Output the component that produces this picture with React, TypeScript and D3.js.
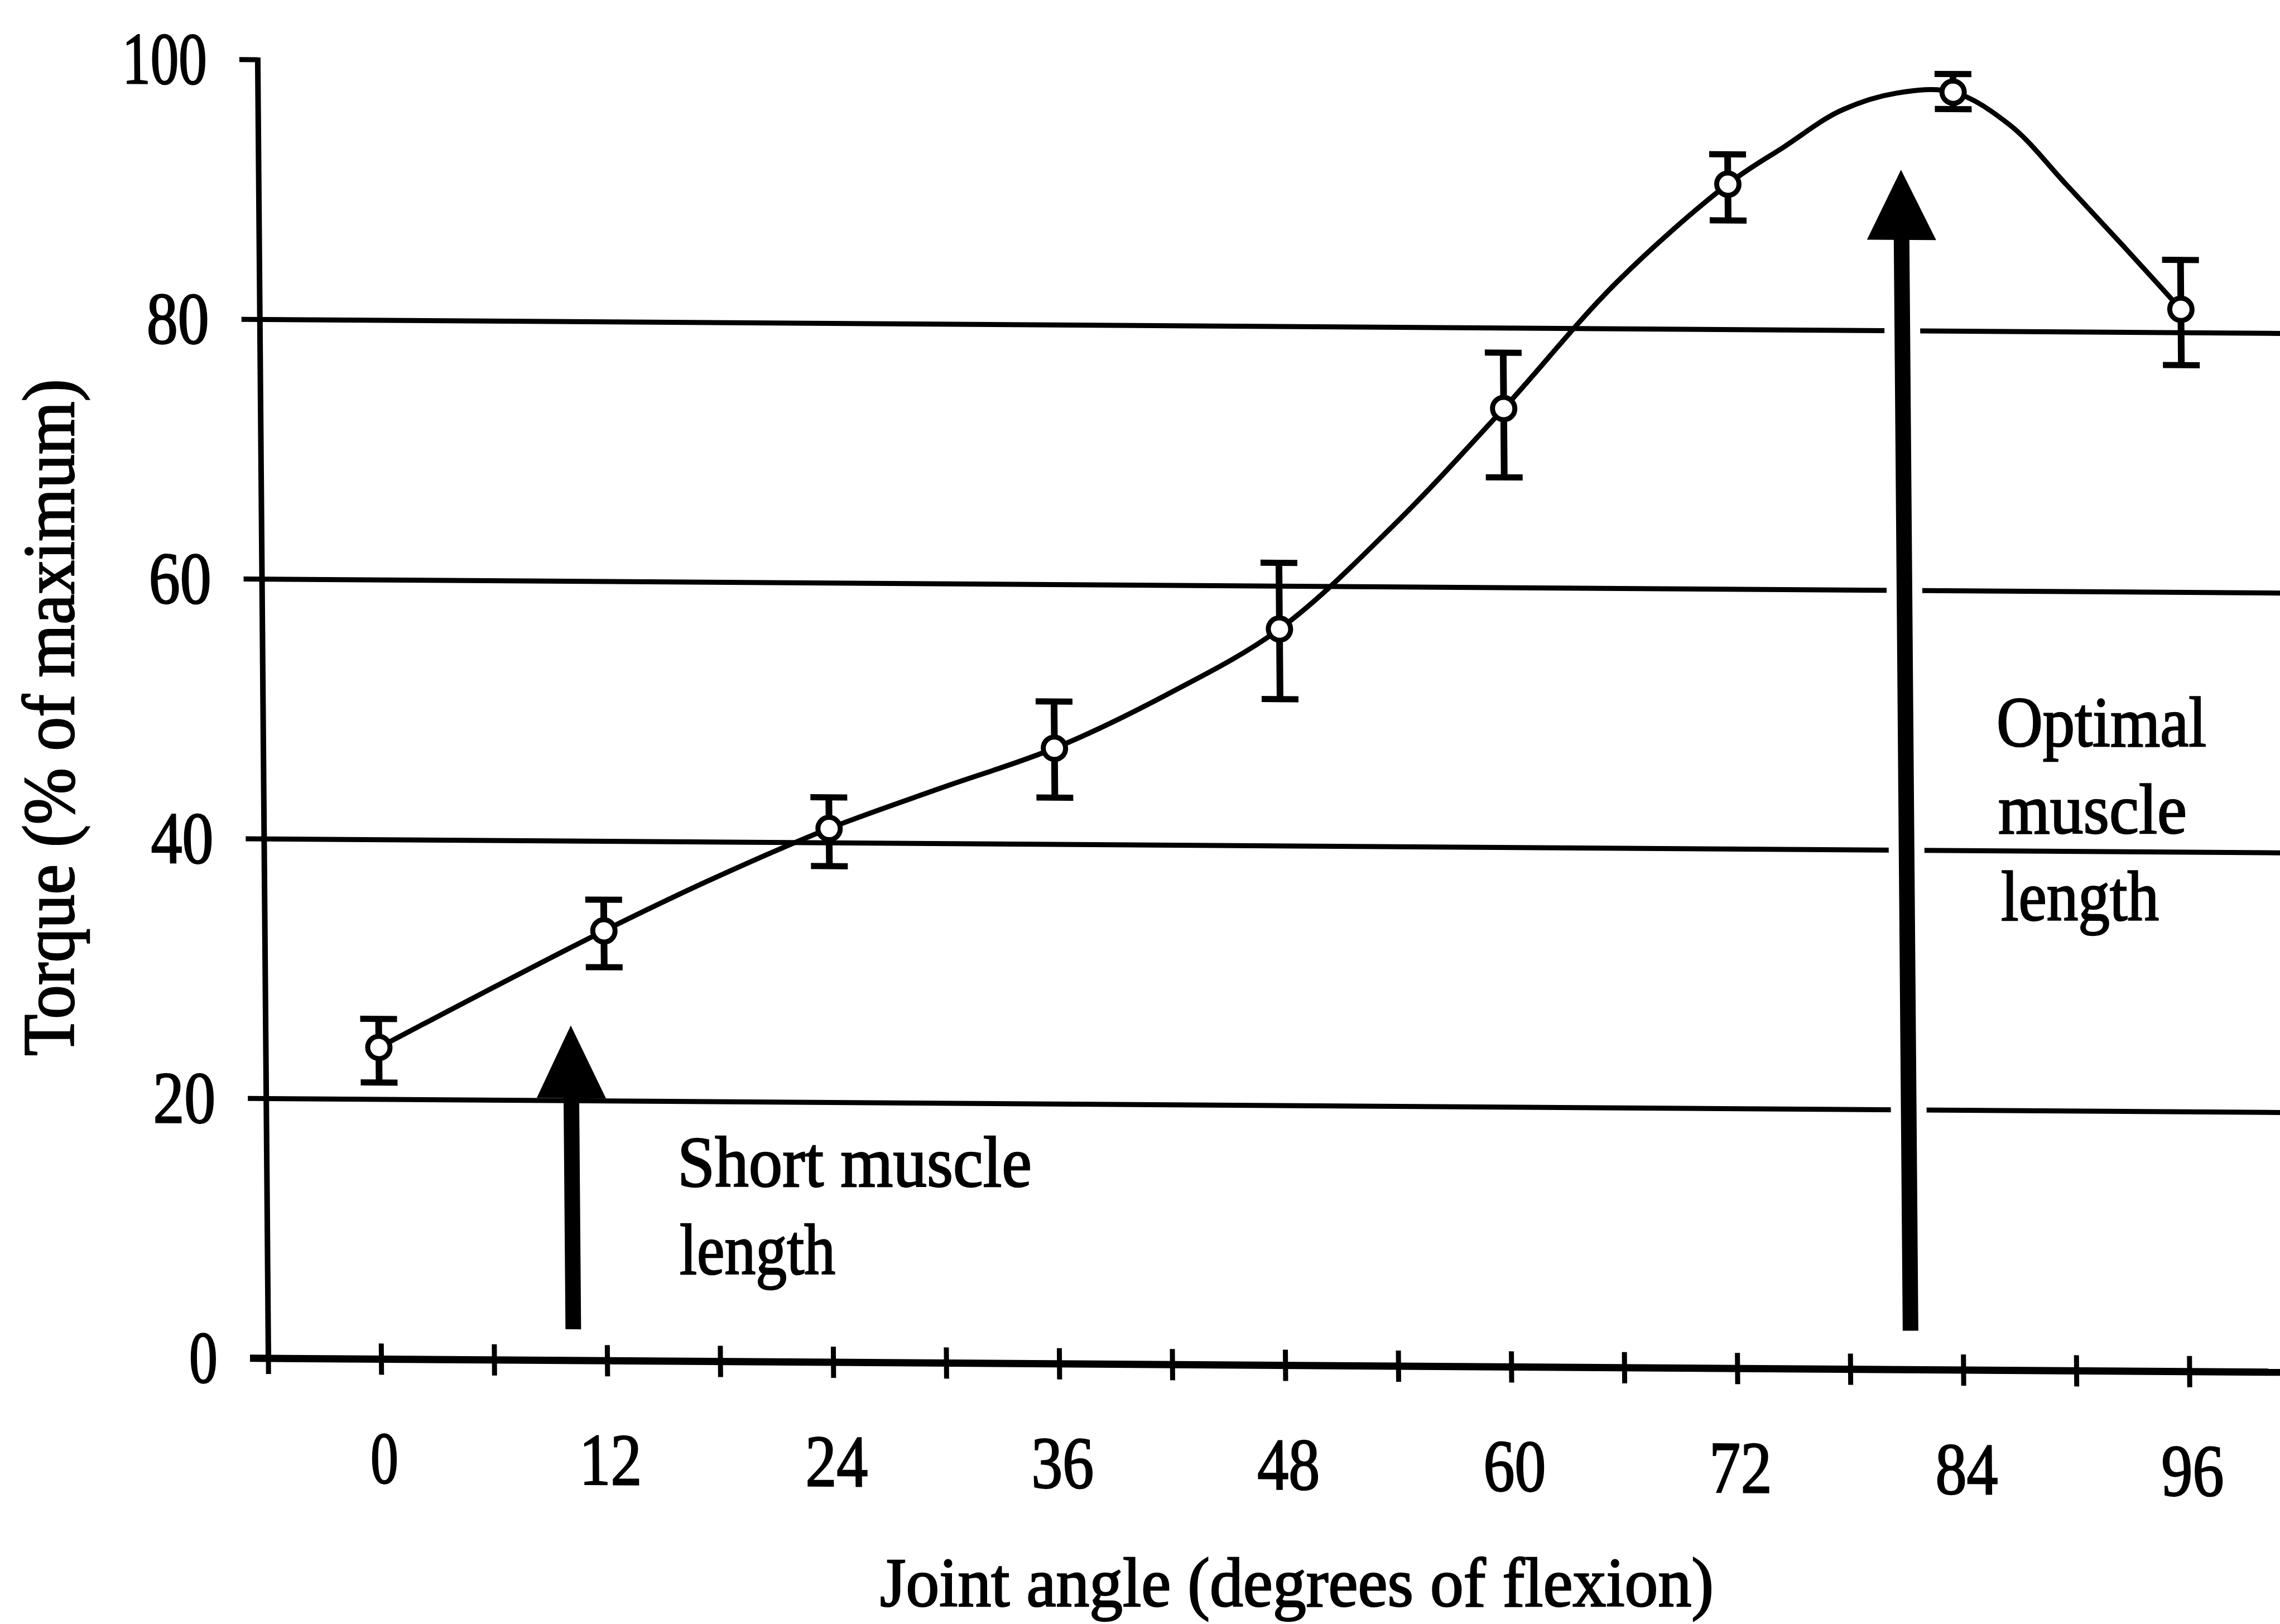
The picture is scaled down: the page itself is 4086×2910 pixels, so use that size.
import React from "react";
import * as d3 from "d3";

// ---- Data ----
const angles = [0, 12, 24, 36, 48, 60, 72, 84, 96];
const torqueMean = [24.0, 33.1, 41.1, 47.4, 56.7, 73.8, 91.2, 98.4, 81.8];
const torqueUpper = [26.2, 35.5, 43.5, 51.0, 61.8, 78.1, 93.5, 99.8, 85.6];
const torqueLower = [21.3, 30.3, 38.2, 43.6, 51.3, 68.5, 88.4, 97.1, 77.5];

// smoothed curve drawn through the points
const curveAngles = [0, 6, 12, 18, 24, 30, 36, 42, 48, 54, 60, 66, 72, 75, 78, 81, 84, 87, 90, 93, 96];
const curveTorque = [24.0, 28.6, 33.1, 37.3, 41.1, 44.3, 47.4, 51.6, 56.7, 64.6, 73.8, 83.5, 91.2, 94.1, 96.9, 98.3, 98.4, 95.9, 91.3, 86.6, 81.8];

const xTickLabels = [0, 12, 24, 36, 48, 60, 72, 84, 96];
const xTickMarks = [-6, 0, 6, 12, 18, 24, 30, 36, 42, 48, 54, 60, 66, 72, 78, 84, 90, 96, 102];
const yTickLabels = [0, 20, 40, 60, 80, 100];
const gridValues = [20, 40, 60, 80];

// annotation arrows (angle, tip torque, head-base torque, tail torque)
const arrowAngles = [10.2, 81.2];
const arrowTips = [25.8, 92.4];
const arrowHeadBases = [20.2, 87.0];
const arrowTails = [2.4, 3.0];
const arrowHalo = [false, true];

const W = 4086;
const H = 2910;
const FONT = "'Liberation Serif', 'Times New Roman', serif";

export default function App() {
  const x = d3.scaleLinear().domain([-6, 96]).range([481, 3924]);
  const y = d3.scaleLinear().domain([0, 100]).range([2434, 107]);

  const kx = 0.0082;
  const ky = 0.0069;
  const X0 = x(-6);
  const Y0 = y(0);
  const shear = `matrix(1, ${ky}, ${kx}, 1, ${-kx * Y0}, ${-ky * X0})`;

  const curvePts: [number, number][] = curveAngles.map((a, i) => [a, curveTorque[i]]);
  const line = d3
    .line<[number, number]>()
    .x((d) => x(d[0]))
    .y((d) => y(d[1]))
    .curve(d3.curveCatmullRom.alpha(0.5));

  const axisLeft = x(-6);
  const tickLen = 33;
  const rightEnd = 4200;

  const yLabelWidth = (v: number) => (String(v).length === 1 ? 51 : String(v).length === 2 ? 112 : 152);
  const xLabelWidth = (v: number) => (String(v).length === 1 ? 50 : 112);

  const textStyle = { stroke: "#000", strokeWidth: 2.5, paintOrder: "stroke" as const };

  return (
    <svg
      width={W}
      height={H}
      viewBox={`0 0 ${W} ${H}`}
      style={{ position: "absolute", left: 0, top: 0, display: "block", background: "#fff" }}
    >
      <rect x={0} y={0} width={W} height={H} fill="#fff" />
      <g transform={shear}>
        {/* gridlines */}
        {gridValues.map((v) => (
          <line key={"g" + v} x1={axisLeft - tickLen} x2={rightEnd} y1={y(v)} y2={y(v)} stroke="#000" strokeWidth={9} />
        ))}
        {/* top tick at 100 */}
        <line x1={axisLeft - tickLen} x2={axisLeft} y1={y(100)} y2={y(100)} stroke="#000" strokeWidth={9} />
        {/* y axis */}
        <line x1={axisLeft} x2={axisLeft} y1={y(0) + 4} y2={y(100) - 4} stroke="#000" strokeWidth={10} />
        {/* x axis */}
        <line x1={axisLeft - tickLen} x2={rightEnd} y1={y(0)} y2={y(0)} stroke="#000" strokeWidth={13} />
        {xTickMarks.map((t) => (
          <line key={"xt" + t} x1={x(t)} x2={x(t)} y1={y(0) - 28} y2={y(0) + 28} stroke="#000" strokeWidth={9} />
        ))}

        {/* y tick labels */}
        {yTickLabels.map((v) => (
          <text
            key={"yl" + v}
            x={390 - yLabelWidth(v)}
            y={y(v) + 44}
            fontFamily={FONT}
            fontSize={132}
            textLength={yLabelWidth(v)}
            lengthAdjust="spacingAndGlyphs"
            fill="#000"
            style={textStyle}
          >
            {v}
          </text>
        ))}
        {/* x tick labels */}
        {xTickLabels.map((v) => (
          <text
            key={"xl" + v}
            x={x(v) + 4 - xLabelWidth(v) / 2}
            y={2656}
            fontFamily={FONT}
            fontSize={132}
            textLength={xLabelWidth(v)}
            lengthAdjust="spacingAndGlyphs"
            fill="#000"
            style={textStyle}
          >
            {v}
          </text>
        ))}

        {/* arrows */}
        {arrowAngles.map((a, i) => {
          const cx = x(a);
          const tip = y(arrowTips[i]);
          const base = y(arrowHeadBases[i]);
          const tail = y(arrowTails[i]);
          const hw = 62;
          return (
            <g key={"ar" + i}>
              {arrowHalo[i] && (
                <line x1={cx} x2={cx} y1={base} y2={tail} stroke="#fff" strokeWidth={64} />
              )}
              <line x1={cx} x2={cx} y1={base - 2} y2={tail} stroke="#000" strokeWidth={28} />
              <path d={`M${cx},${tip} L${cx + hw},${base} L${cx - hw},${base} Z`} fill="#000" />
            </g>
          );
        })}

        {/* curve */}
        <path d={line(curvePts) || ""} fill="none" stroke="#000" strokeWidth={9} strokeLinejoin="round" />

        {/* error bars */}
        {angles.map((a, i) => (
          <g key={"eb" + a}>
            <line x1={x(a)} x2={x(a)} y1={y(torqueUpper[i])} y2={y(torqueLower[i])} stroke="#000" strokeWidth={12} />
            <line x1={x(a) - 33} x2={x(a) + 33} y1={y(torqueUpper[i])} y2={y(torqueUpper[i])} stroke="#000" strokeWidth={11} />
            <line x1={x(a) - 33} x2={x(a) + 33} y1={y(torqueLower[i])} y2={y(torqueLower[i])} stroke="#000" strokeWidth={11} />
          </g>
        ))}
        {/* markers */}
        {angles.map((a, i) => (
          <circle key={"pt" + a} cx={x(a)} cy={y(torqueMean[i])} r={20} fill="#fff" stroke="#000" strokeWidth={9} />
        ))}
      </g>

      {/* axis titles */}
      <text
        x={1577}
        y={2878}
        fontFamily={FONT}
        fontSize={124}
        textLength={1494}
        lengthAdjust="spacingAndGlyphs"
        fill="#000"
        style={textStyle}
      >
        Joint angle (degrees of flexion)
      </text>
      <text
        transform="translate(132, 1892) rotate(-90)"
        x={0}
        y={0}
        fontFamily={FONT}
        fontSize={132}
        textLength={1213}
        lengthAdjust="spacingAndGlyphs"
        fill="#000"
        style={textStyle}
      >
        Torque (% of maximum)
      </text>

      {/* annotations */}
      <text x={1214} y={2126} fontFamily={FONT} fontSize={130} textLength={635} lengthAdjust="spacingAndGlyphs" fill="#000" style={textStyle}>
        Short muscle
      </text>
      <text x={1218} y={2283} fontFamily={FONT} fontSize={130} textLength={279} lengthAdjust="spacingAndGlyphs" fill="#000" style={textStyle}>
        length
      </text>
      <text x={3578} y={1337} fontFamily={FONT} fontSize={128} textLength={376} lengthAdjust="spacingAndGlyphs" fill="#000" style={textStyle}>
        Optimal
      </text>
      <text x={3581} y={1493} fontFamily={FONT} fontSize={128} textLength={338} lengthAdjust="spacingAndGlyphs" fill="#000" style={textStyle}>
        muscle
      </text>
      <text x={3586} y={1649} fontFamily={FONT} fontSize={128} textLength={283} lengthAdjust="spacingAndGlyphs" fill="#000" style={textStyle}>
        length
      </text>
    </svg>
  );
}
